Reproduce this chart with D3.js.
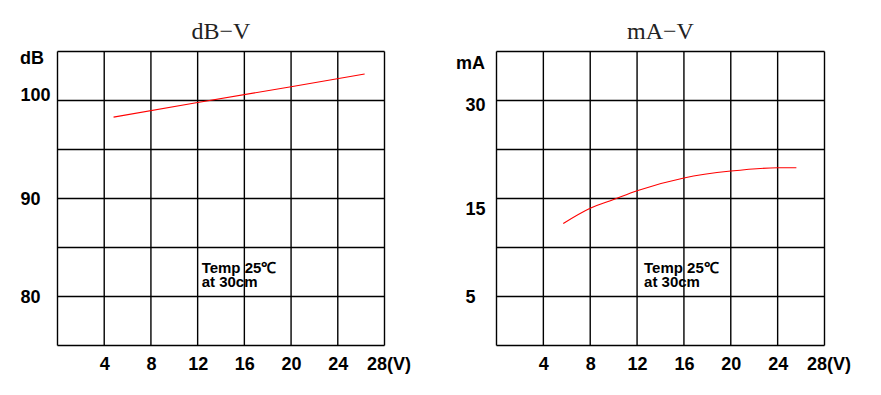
<!DOCTYPE html>
<html>
<head>
<meta charset="utf-8">
<script src="https://cdn.jsdelivr.net/npm/d3@7"></script>
<style>
  body { margin: 0; background: #fff; }
  svg text { font-family: "Liberation Sans", Arial, sans-serif; font-weight: bold; fill: #000; font-size: 18px; }
  svg text.title { font-family: "Liberation Serif", "Times New Roman", serif; font-weight: normal; font-size: 24px; fill: #222; }
  svg text.note { font-size: 15px; }
</style>
</head>
<body>
<svg id="chart" width="881" height="395"></svg>
<script>
// voltage axis is the same on both charts
var voltTicks = [4, 8, 12, 16, 20, 24, 28];
var voltGrid = [0, 4, 8, 12, 16, 20, 24, 28];

// dB-V
var dbTicks = [80, 90, 100];
var dbGrid = [75, 80, 85, 90, 95, 100, 105];
var dbVolts = [4.8, 12, 20, 26.3];
var dbValues = [98.3, 99.8, 101.4, 102.7];

// mA-V (the labels on this one are not evenly spaced in the original)
var maTicks = [5, 15, 30];
var maGrid = [0, 5, 10, 15, 22.5, 30, 37.5];
var maVolts = [5.7, 8, 10, 12, 16, 20, 24, 25.6];
var maValues = [12.45, 14.0, 14.9, 16.2, 18.15, 19.2, 19.7, 19.7];

var svg = d3.select('#chart');

var drawChart = function(opts) {
  var w = opts.width, h = 294;
  var g = svg.append('g').attr('transform', 'translate(' + opts.left + ',51.5)');

  var x = d3.scaleLinear().domain([0, 28]).range([0, w]);
  var y = opts.y(h);

  // grid
  g.selectAll('.vline').data(voltGrid).enter().append('line')
    .attr('x1', function(d) { return x(d); })
    .attr('x2', function(d) { return x(d); })
    .attr('y1', 0).attr('y2', h)
    .attr('stroke', '#000').attr('stroke-width', 1.4);
  g.selectAll('.hline').data(opts.grid).enter().append('line')
    .attr('x1', 0).attr('x2', w)
    .attr('y1', function(d) { return y(d); })
    .attr('y2', function(d) { return y(d); })
    .attr('stroke', '#000').attr('stroke-width', 1.4);

  // x axis labels
  var xAxis = g.append('g').attr('transform', 'translate(0,' + h + ')')
    .call(d3.axisBottom(x).tickValues(voltTicks).tickSize(0)
      .tickFormat(function(d) { return d == 28 ? '28(V)' : d; }));
  xAxis.select('.domain').remove();
  xAxis.selectAll('text').attr('y', 24.5).attr('dy', 0)
    .filter(function(d) { return d == 28; })
    .attr('text-anchor', 'start').attr('dx', -18);

  // y axis labels, left aligned like the original
  var yAxis = g.append('g')
    .call(d3.axisLeft(y).tickValues(opts.ticks).tickSize(0));
  yAxis.select('.domain').remove();
  yAxis.selectAll('text')
    .attr('text-anchor', 'start')
    .attr('x', opts.labelX)
    .attr('y', function(d) { return opts.shift[d] || 0; });

  g.append('text').attr('x', opts.unitX).attr('y', opts.unitY).text(opts.unit);

  // title
  g.append('text').attr('class', 'title')
    .attr('x', w / 2).attr('y', -12.5)
    .attr('text-anchor', 'middle')
    .text(opts.title);

  // note
  var note = g.append('text').attr('class', 'note')
    .attr('x', x(12) + opts.noteDx).attr('y', 221);
  note.append('tspan').text('Temp 25℃');
  note.append('tspan').attr('x', x(12) + opts.noteDx).attr('dy', 14.5).text('at 30cm');

  var pts = opts.volts.map(function(v, i) { return [v, opts.values[i]]; });
  var line = d3.line()
    .x(function(d) { return x(d[0]); })
    .y(function(d) { return y(d[1]); })
    .curve(opts.curve);
  g.append('path').datum(pts)
    .attr('d', line)
    .attr('fill', 'none')
    .attr('stroke', '#ff0000')
    .attr('stroke-width', 1.1);
};

drawChart({
  left: 57.5, width: 327,
  title: 'dB−V', unit: 'dB', unitX: -37.5, unitY: 12.5,
  y: function(h) { return d3.scaleLinear().domain([75, 105]).range([h, 0]); },
  grid: dbGrid, ticks: dbTicks, labelX: -37, shift: {100: -6},
  volts: dbVolts, values: dbValues, curve: d3.curveLinear, noteDx: 4
});

drawChart({
  left: 496.5, width: 328,
  title: 'mA−V', unit: 'mA', unitX: -40.5, unitY: 17.5,
  // piecewise scale so 5 / 15 / 30 land on the grid lines they sit by
  y: function(h) { return d3.scaleLinear().domain([0, 5, 15, 30, 37.5]).range([h, h * 5 / 6, h / 2, h / 6, 0]); },
  grid: maGrid, ticks: maTicks, labelX: -31, shift: {30: 4, 15: 10},
  volts: maVolts, values: maValues, curve: d3.curveMonotoneX, noteDx: 7
});
</script>
</body>
</html>
